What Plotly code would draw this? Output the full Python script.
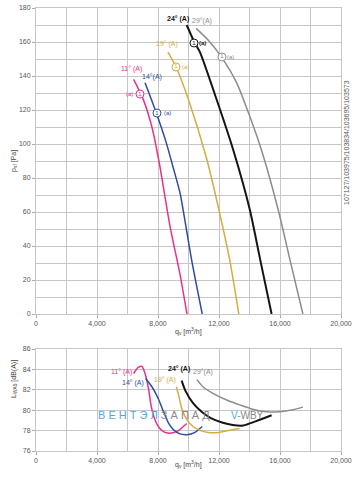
import plotly.graph_objects as go

# ---- data: static pressure curves (q_v in m3/h, p_sf in Pa) ----
angles = ["11°", "14°", "19°", "24°", "29°"]
colors = ["#e8318c", "#2e4c9f", "#d6ac3e", "#151515", "#8c8c8c"]

q_p11 = [6400, 7000, 7600, 8100, 8800, 9450, 9900]
p_11 = [138, 127, 110, 88, 51, 23, 0]
q_p14 = [7150, 7900, 8500, 9000, 9450, 10200, 10900]
p_14 = [136, 118, 102, 86, 71, 32, 0]
q_p19 = [8650, 9200, 10000, 11200, 12000, 12700, 13300]
p_19 = [154, 145, 126, 91, 61, 32, 0]
q_p24 = [9880, 10380, 10750, 11850, 12950, 14030, 14700, 15450]
p_24 = [170, 160, 154, 126, 96, 61, 32, 0]
q_p29 = [10500, 11300, 12175, 13160, 14030, 14800, 15890, 16650, 17500]
p_29 = [168, 161, 151, 136, 116, 96, 61, 32, 0]

# ---- data: sound power curves (q_v in m3/h, L_WA5 in dB(A)) ----
q_l11 = [6400, 6700, 6950, 7150, 7370, 7540, 7760, 8020, 8350, 8790, 9330, 9880]
l_11 = [83.6, 84.2, 84.3, 83.6, 82.2, 80.5, 79.2, 78.4, 77.9, 77.75, 78.0, 78.7]
q_l14 = [7190, 7600, 8000, 8350, 8700, 9000, 9400, 9900, 10400, 10900]
l_14 = [83.1, 82.3, 81.2, 79.9, 78.7, 78.1, 77.7, 77.6, 77.8, 78.4]
q_l19 = [9200, 9350, 9550, 9880, 10300, 10800, 11400, 11900, 12600, 13350]
l_19 = [82.3, 81.5, 80.2, 79.1, 78.4, 78.0, 77.8, 77.8, 78.0, 78.2]
q_l24 = [9550, 9800, 10300, 10900, 11500, 12200, 12900, 13600, 14400, 15450]
l_24 = [82.9, 81.9, 80.7, 79.8, 79.2, 78.8, 78.55, 78.5, 78.9, 79.5]
q_l29 = [10550, 10950, 11600, 12500, 13400, 14200, 15100, 16000, 16850, 17500]
l_29 = [83.0, 82.3, 81.65, 81.0, 80.5, 80.1, 79.85, 79.85, 80.05, 80.3]

# operating point markers (a) on pressure curves
mark_q = [6820, 7934, 9180, 10360, 12196]
mark_p = [129.4, 118.2, 145.3, 159.4, 151.2]

x_ticks = [0, 4000, 8000, 12000, 16000, 20000]
part_numbers = "107127/103975/103834/103695/103573"

FONT = "Liberation Sans, Arial, sans-serif"
GRID = "#c6c6c6"

fig = go.Figure()

p_sets = [(q_p11, p_11), (q_p14, p_14), (q_p19, p_19), (q_p24, p_24), (q_p29, p_29)]
l_sets = [(q_l11, l_11), (q_l14, l_14), (q_l19, l_19), (q_l24, l_24), (q_l29, l_29)]
widths = [1.5, 1.5, 1.5, 2.0, 1.5]

for (q, p), c, w in zip(p_sets, colors, widths):
    fig.add_trace(go.Scatter(x=q, y=p, mode="lines", line=dict(color=c, width=w, shape="spline", smoothing=0.6),
                             xaxis="x", yaxis="y", showlegend=False, hoverinfo="skip"))
for (q, l), c, w in zip(l_sets, colors, widths):
    fig.add_trace(go.Scatter(x=q, y=l, mode="lines", line=dict(color=c, width=w, shape="spline", smoothing=0.6),
                             xaxis="x2", yaxis="y2", showlegend=False, hoverinfo="skip"))

# circled markers
fig.add_trace(go.Scatter(x=mark_q, y=mark_p, mode="markers+text",
                         marker=dict(symbol="circle", size=8, color="white",
                                     line=dict(color=colors, width=1)),
                         text=["1"] * 5, textposition="middle center",
                         textfont=dict(size=6, color=colors, family=FONT),
                         xaxis="x", yaxis="y", showlegend=False, hoverinfo="skip"))

ann = []
# top chart labels
top_labels = [
    ("11° (A)", 6230, 144, 0, False),
    ("14°(A)", 7575, 139.4, 1, False),
    ("19° (A)", 8590, 159, 2, False),
    ("24° (A)", 9311, 173.5, 3, True),
    ("29°(A)", 10885, 172.4, 4, False),
]
for t, x, y, i, b in top_labels:
    ann.append(dict(text=f"<b>{t}</b>" if b else t, x=x, y=y, xref="x", yref="y", showarrow=False,
                    font=dict(size=7, color=colors[i], family=FONT)))
a_pos = [(6100, 129.4, 0), (8590, 118.2, 1), (9835, 145.3, 2), (10950, 159.4, 3), (12786, 151.2, 4)]
for x, y, i in a_pos:
    ann.append(dict(text="<b>(a)</b>" if i == 3 else "(a)", x=x, y=y, xref="x", yref="y", showarrow=False,
                    font=dict(size=6, color=colors[i], family=FONT)))
# bottom chart labels
bot_labels = [
    ("11° (A)", 5574, 83.75, 0, False),
    ("14° (A)", 6360, 82.67, 1, False),
    ("19° (A)", 8459, 82.96, 2, False),
    ("24° (A)", 9377, 84.04, 3, True),
    ("29°(A)", 10950, 83.75, 4, False),
]
for t, x, y, i, b in bot_labels:
    ann.append(dict(text=f"<b>{t}</b>" if b else t, x=x, y=y, xref="x2", yref="y2", showarrow=False,
                    font=dict(size=7, color=colors[i], family=FONT)))

# watermark
ann.append(dict(text="<span style='color:#4fa8e6'>В Е Н Т Э Л </span><span style='color:#8a8a8a'>З А П А Д</span>",
                x=7738, y=79.5, xref="x2", yref="y2", showarrow=False,
                font=dict(size=11, family=FONT)))
ann.append(dict(text="<span style='color:#4fa8e6'>V</span><span style='color:#8a8a8a'>-WBY</span>",
                x=13836, y=79.5, xref="x2", yref="y2", showarrow=False,
                font=dict(size=10, family=FONT)))

# axis titles
ann.append(dict(text="p<sub>sf</sub> [Pa]", x=-0.092, y=(451 - 161) / 443, xref="paper", yref="paper",
                showarrow=False, textangle=-90, font=dict(size=7, color="#444", family=FONT)))
ann.append(dict(text="L<sub>WA5</sub> [dB(A)]", x=-0.092, y=(451 - 400) / 443, xref="paper", yref="paper",
                showarrow=False, textangle=-90, font=dict(size=7, color="#444", family=FONT)))
ann.append(dict(text="q<sub>v</sub> [m<sup>3</sup>/h]", x=0.5, y=(451 - 338) / 443, xref="paper", yref="paper",
                showarrow=False, font=dict(size=7, color="#444", family=FONT)))
ann.append(dict(text="q<sub>v</sub> [m<sup>3</sup>/h]", x=0.5, y=(451 - 471) / 443, xref="paper", yref="paper",
                showarrow=False, font=dict(size=7, color="#444", family=FONT)))
ann.append(dict(text=part_numbers, x=(352 - 36) / 305, y=(451 - 78) / 443, xref="paper", yref="paper",
                showarrow=False, textangle=-90, font=dict(size=7, color="#555", family=FONT)))

axis_common = dict(showgrid=True, gridcolor=GRID, gridwidth=1, zeroline=False,
                   showline=True, linecolor=GRID, mirror=True, automargin=False,
                   ticks="outside", ticklen=3, tickcolor="#aaa",
                   tickfont=dict(size=7, color="#555", family=FONT))

fig.update_layout(
    width=363, height=478,
    margin=dict(l=36, r=22, t=8, b=27),
    paper_bgcolor="white", plot_bgcolor="white",
    annotations=ann,
    xaxis=dict(domain=[0, 1], range=[0, 20000], tickvals=x_ticks, tickformat=",d", anchor="y",
               minor=dict(dtick=2000, showgrid=True, gridcolor=GRID, tick0=0), **axis_common),
    yaxis=dict(domain=[137 / 443, 1], range=[0, 180], dtick=20, anchor="x",
               minor=dict(dtick=10, showgrid=True, gridcolor=GRID, tick0=0), **axis_common),
    xaxis2=dict(domain=[0, 1], range=[0, 20000], tickvals=x_ticks, tickformat=",d", anchor="y2",
                minor=dict(dtick=2000, showgrid=True, gridcolor=GRID, tick0=0), **axis_common),
    yaxis2=dict(domain=[0, 102 / 443], range=[76, 86], dtick=2, anchor="x2", **axis_common),
)

# remove the page's default body margin so the figure sits at the window origin
fig.write_html("out.html", config={"displayModeBar": False},
               post_script="document.body.style.margin='0';")
